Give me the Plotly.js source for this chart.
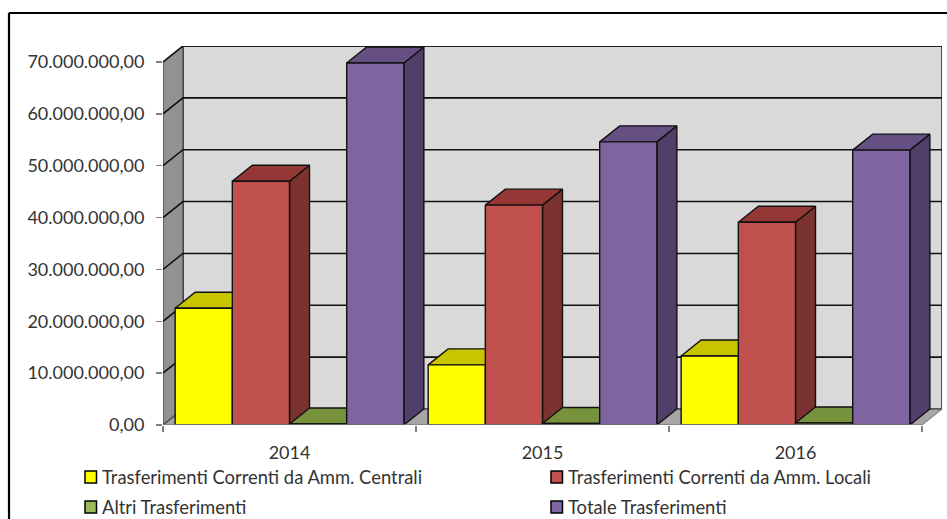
<!DOCTYPE html>
<html>
<head>
<meta charset="utf-8">
<script src="https://cdn.plot.ly/plotly-3.0.1.min.js"></script>
<style>html,body{margin:0;padding:0;background:#fff}</style>
</head>
<body>
<div id="chart" style="width:947px;height:519px"></div>
<script>
// Trasferimenti per anno
const years = ['2014', '2015', '2016'];
const seriesNames = [
  'Trasferimenti Correnti da Amm. Centrali',
  'Trasferimenti Correnti da Amm. Locali',
  'Altri Trasferimenti',
  'Totale Trasferimenti'
];
const centrali = [22500000, 11600000, 13300000];
const locali   = [47000000, 42400000, 39100000];
const altri    = [200000, 300000, 400000];
const totale   = [69800000, 54600000, 53000000];
const seriesValues = [centrali, locali, altri, totale];

const frontColors = ['#ffff00', '#c0504d', '#9bbb59', '#8064a2'];
const topColors   = ['#c8c400', '#953735', '#76923c', '#664f82'];
const sideColors  = ['#b3b300', '#7a3331', '#5f7530', '#523f69'];

const yTickVals = [0, 10000000, 20000000, 30000000, 40000000, 50000000, 60000000, 70000000];
const yTickText = ['0,00', '10.000.000,00', '20.000.000,00', '30.000.000,00',
                   '40.000.000,00', '50.000.000,00', '60.000.000,00', '70.000.000,00'];

// Oblique projection of the box depth, in axis units
const depthX = 0.079;
const depthY = 3085000;
const barWidth = 0.226;
const groupInset = 0.048;
const axisMaxY = 70000000;
const floorEndX = years.length;

const FONT = 'Lato, "Open Sans", sans-serif';
const INK = '#333333';

function poly(xs, ys, fill, lineColor, lineWidth, name) {
  return {
    type: 'scatter', mode: 'lines', x: xs.concat(xs[0]), y: ys.concat(ys[0]),
    fill: 'toself', fillcolor: fill,
    line: {color: lineColor, width: lineWidth},
    hoverinfo: 'skip', showlegend: false, cliponaxis: false, name: name || ''
  };
}
function seg(xs, ys, color, width) {
  return {
    type: 'scatter', mode: 'lines', x: xs, y: ys,
    line: {color: color, width: width},
    hoverinfo: 'skip', showlegend: false, cliponaxis: false
  };
}

const traces = [];

// Box walls
traces.push(poly([depthX, floorEndX + depthX, floorEndX + depthX, depthX],
                 [depthY, depthY, axisMaxY + depthY, axisMaxY + depthY], '#d9d9d9', '#222222', 1.5));
traces.push(poly([0, depthX, depthX, 0],
                 [0, depthY, axisMaxY + depthY, axisMaxY], '#929292', '#444444', 1.2));
traces.push(poly([0, floorEndX, floorEndX + depthX, depthX],
                 [0, 0, depthY, depthY], '#a6a6a6', '#8c8c8c', 1.2));

// Gridlines run along the left wall and the back wall
yTickVals.forEach(v => {
  traces.push(seg([0, depthX, floorEndX + depthX],
                  [v, v + depthY, v + depthY], v === 0 ? '#555555' : '#111111', 1.6));
});

// Bars, painted left to right so each front covers its neighbour's side
years.forEach((yr, g) => {
  seriesValues.forEach((vals, s) => {
    const x0 = g + groupInset + s * barWidth;
    const x1 = x0 + barWidth;
    const v = vals[g];
    const nm = seriesNames[s] + ' ' + yr;
    traces.push(poly([x1, x1 + depthX, x1 + depthX, x1],
                     [0, depthY, v + depthY, v], sideColors[s], '#111111', 1.4, nm));
    traces.push(poly([x0, x1, x1 + depthX, x0 + depthX],
                     [v, v, v + depthY, v + depthY], topColors[s], '#111111', 1.4, nm));
    traces.push(poly([x0, x1, x1, x0],
                     [0, 0, v, v], frontColors[s], '#111111', 1.4, nm));
  });
});

// Front edge of the floor
traces.push(seg([0, floorEndX], [0, 0], '#808080', 1.5));

const W = 947, H = 519, L = 163, R = 5, T = 46, B = 94;
const px = x => (x - L) / (W - L - R);
const py = y => 1 - (y - T) / (H - T - B);

// Outer frame and legend keys sit in paper coordinates
const shapes = [
  {type: 'line', xref: 'paper', yref: 'paper', x0: px(9), x1: px(9), y0: py(13), y1: py(519),
   line: {color: '#000', width: 2.2}},
  {type: 'line', xref: 'paper', yref: 'paper', x0: px(9), x1: px(947), y0: py(13), y1: py(13),
   line: {color: '#000', width: 2.2}}
];
const legendSlots = [[85, 477], [551, 477], [85, 507], [551, 507]];
const annotations = [];
seriesNames.forEach((name, i) => {
  const [lx, ly] = legendSlots[i];
  shapes.push({type: 'rect', xref: 'paper', yref: 'paper',
    x0: px(lx), x1: px(lx + 11.5), y0: py(ly - 6), y1: py(ly + 6),
    fillcolor: frontColors[i], line: {color: '#000', width: 1.5}});
  annotations.push({xref: 'paper', yref: 'paper', x: px(lx + 15), y: py(ly - 0.5),
    xanchor: 'left', yanchor: 'middle', showarrow: false, text: name,
    font: {family: FONT, size: 18.4, color: INK}});
});

const layout = {
  width: W, height: H,
  margin: {l: L, r: R, t: T, b: B, pad: 0},
  paper_bgcolor: '#fff', plot_bgcolor: '#fff',
  showlegend: false,
  xaxis: {
    range: [0, floorEndX + depthX], showgrid: false, zeroline: false, showline: false,
    tickmode: 'array', tickvals: years.map((_, i) => i + 0.5), ticktext: years,
    ticks: '', ticklabelstandoff: 15,
    tickfont: {family: FONT, size: 18, color: INK},
    minor: {tickmode: 'array', tickvals: years.map((_, i) => i).concat(years.length),
            ticks: 'outside', ticklen: 6, tickwidth: 1.5, tickcolor: '#808080', showgrid: false}
  },
  yaxis: {
    range: [0, axisMaxY + depthY], showgrid: false, zeroline: false, showline: false,
    tickmode: 'array', tickvals: yTickVals, ticktext: yTickText,
    ticks: 'outside', ticklen: 6, tickwidth: 1.5, tickcolor: '#808080',
    ticklabelstandoff: 8,
    tickfont: {family: FONT, size: 18, color: INK}
  },
  shapes, annotations
};

Plotly.newPlot('chart', traces, layout, {displayModeBar: false, staticPlot: true});
</script>
</body>
</html>
